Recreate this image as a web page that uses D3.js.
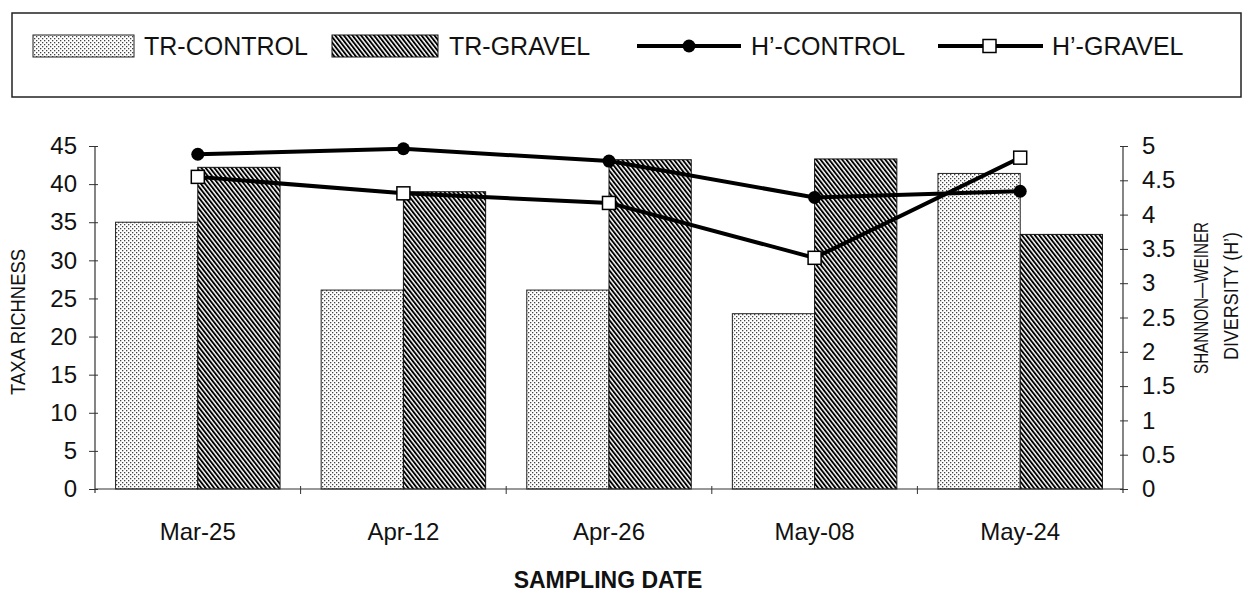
<!DOCTYPE html>
<html>
<head>
<meta charset="utf-8">
<script src="https://cdn.jsdelivr.net/npm/d3@7"></script>
<style>
  html, body { margin: 0; padding: 0; background: #fff; }
  svg { display: block; }
  text { font-family: "Liberation Sans", Arial, Helvetica, sans-serif; fill: #111; }
</style>
</head>
<body>
<svg id="chart" width="1257" height="594"></svg>
<script>
// ---- data ----
const categories = ["Mar-25", "Apr-12", "Apr-26", "May-08", "May-24"];
const trControl = [35.0, 26.1, 26.1, 23.0, 41.4];
const trGravel  = [42.2, 39.0, 43.2, 43.3, 33.4];
const hControl  = [4.88, 4.96, 4.78, 4.25, 4.34];
const hGravel   = [4.55, 4.31, 4.17, 3.37, 4.83];
const leftTicks  = [0, 5, 10, 15, 20, 25, 30, 35, 40, 45];
const rightTicks = [0, 0.5, 1, 1.5, 2, 2.5, 3, 3.5, 4, 4.5, 5];
const seriesNames = ["TR-CONTROL", "TR-GRAVEL", "H\u2019-CONTROL", "H\u2019-GRAVEL"];

// ---- layout ----
const svg = d3.select("#chart");
const plotLeft = 95, plotRight = 1123, plotTop = 146, plotBottom = 489;

const defs = svg.append("defs");
const dots = defs.append("pattern").attr("id", "dots")
  .attr("patternUnits", "userSpaceOnUse").attr("width", 4).attr("height", 4);
dots.append("rect").attr("width", 4).attr("height", 4).attr("fill", "#fff");
dots.append("rect").attr("x", 0).attr("y", 0).attr("width", 1.3).attr("height", 1.3).attr("fill", "#444");
dots.append("rect").attr("x", 2).attr("y", 2).attr("width", 1.3).attr("height", 1.3).attr("fill", "#444");

const hatch = defs.append("pattern").attr("id", "hatch")
  .attr("patternUnits", "userSpaceOnUse").attr("width", 3.4).attr("height", 10)
  .attr("patternTransform", "rotate(-38)");
hatch.append("rect").attr("width", 3.4).attr("height", 10).attr("fill", "#fff");
hatch.append("rect").attr("x", 0).attr("y", 0).attr("width", 1.9).attr("height", 10).attr("fill", "#000");

const x = d3.scaleBand().domain(categories).range([plotLeft, plotRight])
  .paddingInner(0.2).paddingOuter(0.1);
const xs = d3.scaleBand().domain(["c", "g"]).range([0, x.bandwidth()]);
const yL = d3.scaleLinear().domain([0, 45]).range([plotBottom, plotTop]);
const yR = d3.scaleLinear().domain([0, 5]).range([plotBottom, plotTop]);

// ---- bars ----
const gBars = svg.append("g");
gBars.selectAll("rect.c").data(categories).join("rect").attr("class", "c")
  .attr("x", d => x(d) + xs("c")).attr("width", xs.bandwidth())
  .attr("y", (d, i) => yL(trControl[i])).attr("height", (d, i) => yL(0) - yL(trControl[i]))
  .attr("fill", "url(#dots)").attr("stroke", "#222").attr("stroke-width", 1);
gBars.selectAll("rect.g").data(categories).join("rect").attr("class", "g")
  .attr("x", d => x(d) + xs("g")).attr("width", xs.bandwidth())
  .attr("y", (d, i) => yL(trGravel[i])).attr("height", (d, i) => yL(0) - yL(trGravel[i]))
  .attr("fill", "url(#hatch)").attr("stroke", "#111").attr("stroke-width", 1);

// ---- axes ----
const axisColor = "#333";
const leftAxis = svg.append("g").attr("transform", `translate(${plotLeft},0)`)
  .call(d3.axisLeft(yL).tickValues(leftTicks).tickSize(6).tickPadding(12));
const rightAxis = svg.append("g").attr("transform", `translate(${plotRight},0)`)
  .call(d3.axisRight(yR).tickValues(rightTicks).tickFormat(d3.format("")).tickSize(5).tickPadding(14));
[leftAxis, rightAxis].forEach(a => {
  a.select(".domain").attr("stroke", axisColor).attr("d", null);
  a.selectAll(".tick line").attr("stroke", axisColor);
  a.selectAll(".tick text").style("font-size", "24px").attr("fill", "#111");
});
svg.append("line").attr("x1", plotLeft).attr("x2", plotLeft).attr("y1", yL(45)).attr("y2", plotBottom + 4)
  .attr("stroke", axisColor).attr("stroke-width", 1.2);
svg.append("line").attr("x1", plotRight).attr("x2", plotRight).attr("y1", yR(5)).attr("y2", plotBottom + 4)
  .attr("stroke", axisColor).attr("stroke-width", 1.2);
leftAxis.selectAll(".tick").append("line").attr("x1", 0).attr("x2", 3).attr("stroke", axisColor);
rightAxis.selectAll(".tick").append("line").attr("x1", -3).attr("x2", 0).attr("stroke", axisColor);

svg.append("line").attr("x1", plotLeft).attr("x2", plotRight).attr("y1", plotBottom).attr("y2", plotBottom)
  .attr("stroke", axisColor).attr("stroke-width", 1.2);
const bounds = categories.slice(1).map(c => x(c) - x.step() * x.paddingInner() / 2);
svg.selectAll("line.xb").data(bounds).join("line").attr("class", "xb")
  .attr("x1", d => d).attr("x2", d => d).attr("y1", plotBottom - 3).attr("y2", plotBottom + 5)
  .attr("stroke", axisColor);
svg.selectAll("text.xl").data(categories).join("text").attr("class", "xl")
  .attr("x", d => x(d) + x.bandwidth() / 2).attr("y", 540)
  .attr("text-anchor", "middle").style("font-size", "24px").text(d => d);

// axis titles
svg.append("text").attr("x", 608).attr("y", 588).attr("text-anchor", "middle")
  .style("font-size", "23px").style("font-weight", "bold").text("SAMPLING DATE");
svg.append("text").attr("transform", "translate(25,322) rotate(-90)").attr("text-anchor", "middle")
  .attr("textLength", 146).attr("lengthAdjust", "spacingAndGlyphs")
  .style("font-size", "21px").text("TAXA RICHNESS");
svg.append("text").attr("transform", "translate(1208,298) rotate(-90)").attr("text-anchor", "middle")
  .attr("textLength", 152).attr("lengthAdjust", "spacingAndGlyphs")
  .style("font-size", "21px").text("SHANNON\u2014WEINER");
svg.append("text").attr("transform", "translate(1238,296) rotate(-90)").attr("text-anchor", "middle")
  .attr("textLength", 128).attr("lengthAdjust", "spacingAndGlyphs")
  .style("font-size", "21px").text("DIVERSITY (H\u2019)");

// ---- lines ----
const cx = (d) => x(d) + x.bandwidth() / 2;
const line = d3.line().x(d => d[0]).y(d => d[1]);
const ctrlPts = categories.map((c, i) => [cx(c), yR(hControl[i])]);
const gravPts = categories.map((c, i) => [cx(c), yR(hGravel[i])]);
svg.append("path").attr("d", line(gravPts)).attr("fill", "none").attr("stroke", "#000").attr("stroke-width", 4);
svg.append("path").attr("d", line(ctrlPts)).attr("fill", "none").attr("stroke", "#000").attr("stroke-width", 4);
svg.selectAll("circle.hc").data(ctrlPts).join("circle").attr("class", "hc")
  .attr("cx", d => d[0]).attr("cy", d => d[1]).attr("r", 6.5).attr("fill", "#000");
svg.selectAll("rect.hg").data(gravPts).join("rect").attr("class", "hg")
  .attr("x", d => d[0] - 6.5).attr("y", d => d[1] - 6.5).attr("width", 13).attr("height", 13)
  .attr("fill", "#fff").attr("stroke", "#000").attr("stroke-width", 1.5);

// ---- legend ----
svg.append("rect").attr("x", 12).attr("y", 13).attr("width", 1229).attr("height", 84)
  .attr("fill", "none").attr("stroke", "#222").attr("stroke-width", 1.5);
const legY = 46;
svg.append("rect").attr("x", 33).attr("y", 35).attr("width", 101).attr("height", 22)
  .attr("fill", "url(#dots)").attr("stroke", "#222");
svg.append("rect").attr("x", 332).attr("y", 35).attr("width", 106).attr("height", 22)
  .attr("fill", "url(#hatch)").attr("stroke", "#111");
svg.append("line").attr("x1", 637).attr("x2", 741).attr("y1", legY).attr("y2", legY).attr("stroke", "#000").attr("stroke-width", 4);
svg.append("circle").attr("cx", 689).attr("cy", legY).attr("r", 6.5).attr("fill", "#000");
svg.append("line").attr("x1", 938).attr("x2", 1043).attr("y1", legY).attr("y2", legY).attr("stroke", "#000").attr("stroke-width", 4);
svg.append("rect").attr("x", 983).attr("y", legY - 6.5).attr("width", 13).attr("height", 13)
  .attr("fill", "#fff").attr("stroke", "#000").attr("stroke-width", 1.5);
const legTextX = [144, 449, 751, 1052];
svg.selectAll("text.leg").data(seriesNames).join("text").attr("class", "leg")
  .attr("x", (d, i) => legTextX[i]).attr("y", 55).style("font-size", "25px").text(d => d);
</script>
</body>
</html>
